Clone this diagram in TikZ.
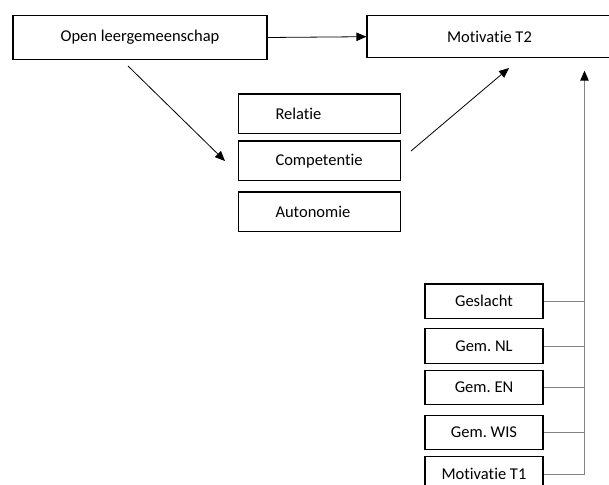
\documentclass[tikz,border=0pt]{standalone}
\usepackage{fontspec}
\setmainfont{Carlito}[Ligatures=NoCommon]
\usetikzlibrary{arrows.meta,positioning}
\definecolor{linegray}{RGB}{130,130,130}
\frenchspacing

\begin{document}
\begin{tikzpicture}[x=1pt,y=-1pt,->,>={Triangle[length=10pt,width=8.5pt]},
base box/.style={rectangle,draw,line width=1.2pt,inner sep=0pt,
  font=\fontsize{16.5}{19}\selectfont},
mid box/.style={base box,minimum width=162pt,minimum height=39.5pt,
  text width=88pt,align=left},
side box/.style={base box,minimum width=118pt,minimum height=34.7pt},
link/.style={-,draw=linegray,line width=0.9pt}]

\useasboundingbox (0,0) rectangle (609,484);
\clip (0,0) rectangle (609,484);

\node[base box,minimum width=254pt,minimum height=43.6pt] (open) at (140,37.5) {Open leergemeenschap};
\node[base box,minimum width=245pt,minimum height=42pt] (mot2) at (489.5,36.7) {Motivatie T2};

\node[mid box] (rel) at (319.5,113.7) {Relatie};
\node[mid box] (comp) at (319.5,160.8) {Competentie};
\node[mid box] (auton) at (319.5,211.7) {Autonomie};

\node[side box] (gesl) at (484,301.3) {Geslacht};
\node[side box] (nl) at (484,346) {Gem. NL};
\node[side box] (en) at (484,387.5) {Gem. EN};
\node[side box] (wis) at (484,432.5) {Gem. WIS};
\node[side box] (mot1) at (484,474) {Motivatie T1};

% free ends of the slanted arrows
\coordinate (a1) at (128,66);
\coordinate (a2) at (225,161);
\coordinate (a3) at (411,151);
\coordinate (a4) at (509,68);
\coordinate (bustop) at (584.5,70.7);

\path[line width=0.8pt]
(open.east) edge (mot2.west)
(a1) edge (a2)
(a3) edge (a4);

\draw[link,-{Triangle[length=10pt,width=8.5pt,color=black]}] (mot1.east) -| (bustop);
\foreach \n in {gesl,nl,en,wis}
  \draw[link] (\n.east) -- (\n.east -| bustop);
\end{tikzpicture}
\end{document}
